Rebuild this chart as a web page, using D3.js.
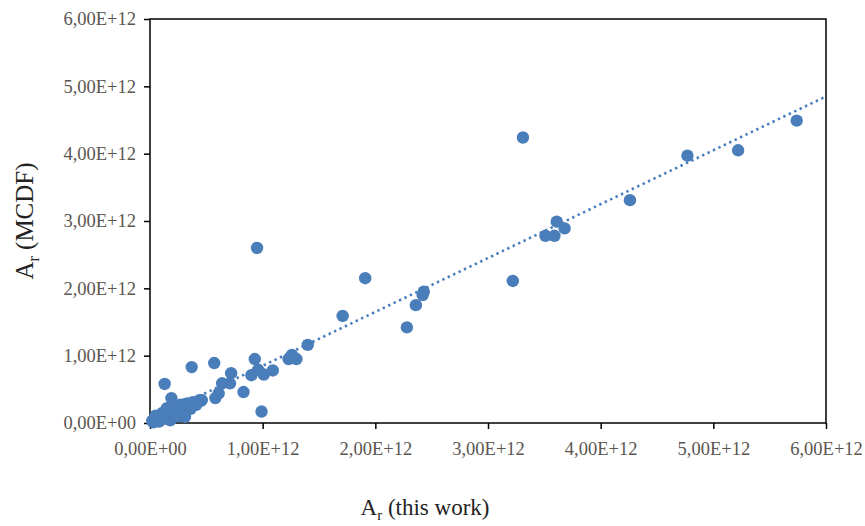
<!DOCTYPE html>
<html>
<head>
<meta charset="utf-8">
<script src="https://cdn.jsdelivr.net/npm/d3@7"></script>
<style>
  html, body { margin: 0; padding: 0; background: #fff; }
  svg { display: block; }
</style>
</head>
<body>
<div id="chart"></div>
<script>
// valeurs (en unités de 1E12)
const xThisWork = [
  5.74, 5.22, 4.77, 4.26, 3.61, 3.68, 3.51, 3.59, 3.31, 3.22,
  1.91, 1.71, 2.36, 2.43, 2.42, 2.28, 0.95, 1.40, 1.23, 1.30,
  1.26, 0.93, 0.57, 0.72, 1.09, 1.01, 0.90, 0.96, 0.83, 0.99,
  0.71, 0.64, 0.61, 0.58, 0.46, 0.37, 0.13, 0.45, 0.19, 0.33,
  0.44, 0.27, 0.24, 0.30, 0.35,
  0.02, 0.04, 0.07, 0.09, 0.12, 0.14, 0.16, 0.18, 0.20, 0.22,
  0.25, 0.27, 0.29, 0.31, 0.35, 0.38, 0.26, 0.18, 0.08, 0.03,
  0.31, 0.22, 0.41, 0.36, 0.11, 0.05, 0.15
];
const yMCDF = [
  4.49, 4.05, 3.97, 3.31, 2.99, 2.89, 2.78, 2.78, 4.24, 2.11,
  2.15, 1.59, 1.75, 1.95, 1.90, 1.42, 2.60, 1.16, 0.95, 0.95,
  1.01, 0.95, 0.89, 0.74, 0.78, 0.72, 0.71, 0.79, 0.46, 0.17,
  0.59, 0.59, 0.44, 0.37, 0.34, 0.83, 0.58, 0.33, 0.37, 0.29,
  0.34, 0.27, 0.20, 0.19, 0.24,
  0.03, 0.05, 0.07, 0.10, 0.06, 0.13, 0.09, 0.17, 0.12, 0.20,
  0.16, 0.24, 0.21, 0.28, 0.25, 0.31, 0.10, 0.04, 0.02, 0.01,
  0.09, 0.13, 0.27, 0.21, 0.15, 0.11, 0.22
];
const xTicks = [0, 1, 2, 3, 4, 5, 6];
const yTicks = [0, 1, 2, 3, 4, 5, 6];
const tickLabelsX = ['0,00E+00', '1,00E+12', '2,00E+12', '3,00E+12', '4,00E+12', '5,00E+12', '6,00E+12'];
const tickLabelsY = ['0,00E+00', '1,00E+12', '2,00E+12', '3,00E+12', '4,00E+12', '5,00E+12', '6,00E+12'];
// courbe de tendance linéaire (pente, ordonnée à l'origine en 1E12)
const trendSlope = 0.80;
const trendIntercept = 0.05;

const W = 865, H = 526;
const margin = { top: 19, right: 39, bottom: 103, left: 150 };
const innerW = W - margin.left - margin.right;
const innerH = H - margin.top - margin.bottom;

const x = d3.scaleLinear().domain([0, 6]).range([0, innerW]);
const y = d3.scaleLinear().domain([0, 6]).range([innerH, 0]);

const svg = d3.select('#chart').append('svg')
  .attr('width', W).attr('height', H);

const root = svg.append('g').attr('transform', `translate(${margin.left},${margin.top})`);

const labelFont = '"Liberation Serif", "Times New Roman", serif';

// ── cadre ──
root.append('rect')
  .attr('x', 0).attr('y', 0)
  .attr('width', innerW).attr('height', innerH)
  .attr('fill', 'none').attr('stroke', '#000').attr('stroke-width', 1.5);

// ── axes ──
const xAxis = d3.axisBottom(x).tickValues(xTicks)
  .tickFormat((d, i) => tickLabelsX[i]).tickSize(6).tickPadding(13);
const yAxis = d3.axisLeft(y).tickValues(yTicks)
  .tickFormat((d, i) => tickLabelsY[i]).tickSize(6).tickPadding(8);

const gx = root.append('g').attr('transform', `translate(0,${innerH})`).call(xAxis);
const gy = root.append('g').call(yAxis);

[gx, gy].forEach(g => {
  g.select('.domain').remove();
  g.selectAll('.tick line').attr('stroke', '#000').attr('stroke-width', 1.5);
  g.selectAll('.tick text')
    .style('font-family', labelFont)
    .style('font-size', '18.5px')
    .style('fill', '#5b5550');
});

// ── points ──
const pts = xThisWork.map((v, i) => ({ x: v, y: yMCDF[i] }));
root.append('g').selectAll('circle')
  .data(pts)
  .join('circle')
  .attr('cx', d => x(d.x))
  .attr('cy', d => y(d.y))
  .attr('r', 6.2)
  .attr('fill', '#4a7ebb');

// ── tendance ──
root.append('line')
  .attr('x1', x(0)).attr('y1', y(trendIntercept))
  .attr('x2', x(6)).attr('y2', y(trendIntercept + trendSlope * 6))
  .attr('stroke', '#4a7ebb')
  .attr('stroke-width', 2.6)
  .attr('stroke-dasharray', '2.4,3.6');

// ── titres d'axes ──
const xt = svg.append('text')
  .attr('x', 425).attr('y', 515)
  .attr('text-anchor', 'middle')
  .style('font-family', labelFont).style('font-size', '23px').style('fill', '#222');
xt.append('tspan').text('A');
xt.append('tspan').attr('dy', 5).style('font-size', '15px').text('r');
xt.append('tspan').attr('dy', -5).text(' (this work)');

const yt = svg.append('text')
  .attr('transform', `translate(33,221) rotate(-90)`)
  .attr('text-anchor', 'middle')
  .style('font-family', labelFont).style('font-size', '25px').style('fill', '#222');
yt.append('tspan').text('A');
yt.append('tspan').attr('dy', 6).style('font-size', '16px').text('r');
yt.append('tspan').attr('dy', -6).text(' (MCDF)');
</script>
</body>
</html>
